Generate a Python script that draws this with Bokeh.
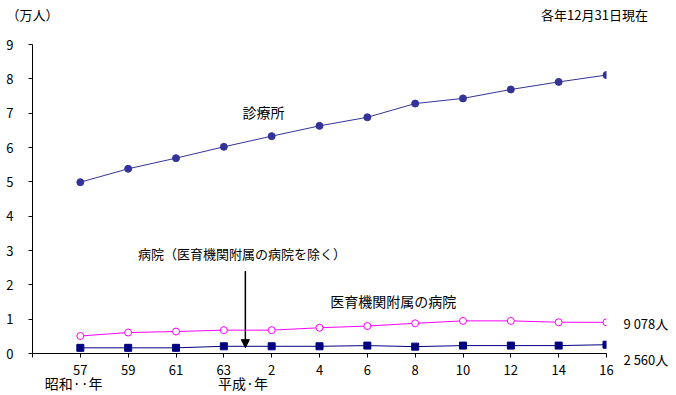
from bokeh.plotting import figure
from bokeh.models import FixedTicker, Label, Arrow, NormalHead, LinearAxis
from bokeh.embed import file_html
from bokeh.resources import INLINE

# ---- data ----
years = ["57", "59", "61", "63", "2", "4", "6", "8", "10", "12", "14", "16"]
clinic = [4.99, 5.38, 5.69, 6.02, 6.33, 6.63, 6.88, 7.28, 7.43, 7.69, 7.91, 8.11]
univ_hosp = [0.51, 0.61, 0.64, 0.68, 0.68, 0.75, 0.80, 0.88, 0.95, 0.95, 0.91, 0.9078]
hospital = [0.165, 0.165, 0.165, 0.21, 0.21, 0.21, 0.23, 0.20, 0.23, 0.23, 0.23, 0.256]
y_ticks = [0, 1, 2, 3, 4, 5, 6, 7, 8, 9]
era_labels = ["昭和··年", "平成·年"]
unit_label = "（万人）"
date_note = "各年12月31日現在"

xs = [i + 1 for i in range(len(years))]
FONT = "Noto Sans CJK JP"


def people(v):
    return f"{int(round(v * 10000)):,}".replace(",", " ") + "人"


p = figure(width=676, height=395, output_backend="svg", toolbar_location=None,
           x_range=(0, len(years)), y_range=(0, 9),
           min_border_left=32, min_border_right=70, min_border_top=44, min_border_bottom=42)
p.outline_line_color = None
p.xgrid.visible = False
p.ygrid.visible = False
p.background_fill_color = "white"
p.border_fill_color = "white"

# main axes
p.xaxis.ticker = FixedTicker(ticks=[0] + xs)
over = {0: ""}
for x, lab in zip(xs, years):
    over[x] = lab
p.xaxis.major_label_overrides = over
p.yaxis.ticker = FixedTicker(ticks=y_ticks)
for ax in (p.xaxis[0], p.yaxis[0]):
    ax.axis_line_color = "black"
    ax.axis_line_width = 1
    ax.major_tick_line_color = "black"
    ax.major_tick_out = 4
    ax.major_tick_in = 0
    ax.minor_tick_line_color = None
    ax.major_label_text_font = FONT
    ax.major_label_text_font_size = "13px"
    ax.major_label_text_color = "black"
p.yaxis.major_label_standoff = 15
p.xaxis.major_label_standoff = 7


def text_axis(ticks, labels, standoff, size="13px", **kw):
    ax = LinearAxis(ticker=FixedTicker(ticks=ticks),
                    major_label_overrides=dict(zip(ticks, labels)),
                    axis_line_color=None, major_tick_line_color=None,
                    minor_tick_line_color=None, major_tick_out=0, major_tick_in=0,
                    major_label_standoff=standoff, major_label_text_font=FONT,
                    major_label_text_font_size=size, major_label_text_color="black", **kw)
    return ax


# era labels under the year ticks
p.add_layout(text_axis([0.86, 4.40], era_labels, -5, "14px"), "below")
# unit and date note above the plot
p.add_layout(text_axis([0.0, 11.75], [unit_label, date_note], 21, "13px"), "above")
# end values on the right (two lines around one tick)
p.add_layout(text_axis([0.35], [people(univ_hosp[-1]) + "\n" + people(hospital[-1])], 17,
                       "13px", major_label_text_line_height=1.9), "right")

# series
p.line(xs, clinic, line_color="#333399", line_width=1)
p.scatter(xs, clinic, marker="circle", size=7, fill_color="#333399", line_color="#333399")
p.line(xs, univ_hosp, line_color="#FF00FF", line_width=1)
p.scatter(xs, univ_hosp, marker="circle", size=7, fill_color="white", line_color="#FF00FF", line_width=1)
p.line(xs, hospital, line_color="#000080", line_width=1)
p.scatter(xs, hospital, marker="square", size=7, fill_color="#000080", line_color="#000080")


def lab(text, x, y, size="14px"):
    p.add_layout(Label(x=x, y=y, text=text, text_align="center", text_baseline="middle",
                       text_font=FONT, text_font_size=size, text_color="black"))


lab("診療所", 4.83, 7.04)
lab("病院（医育機関附属の病院を除く）", 4.38, 2.92, "13px")
lab("医育機関附属の病院", 7.54, 1.53)

p.add_layout(Arrow(end=NormalHead(size=8, fill_color="black", line_color="black"),
                   x_start=4.45, y_start=2.40, x_end=4.45, y_end=0.17,
                   line_color="black", line_width=1.5))

open("out.html", "w").write(file_html(p, INLINE))
